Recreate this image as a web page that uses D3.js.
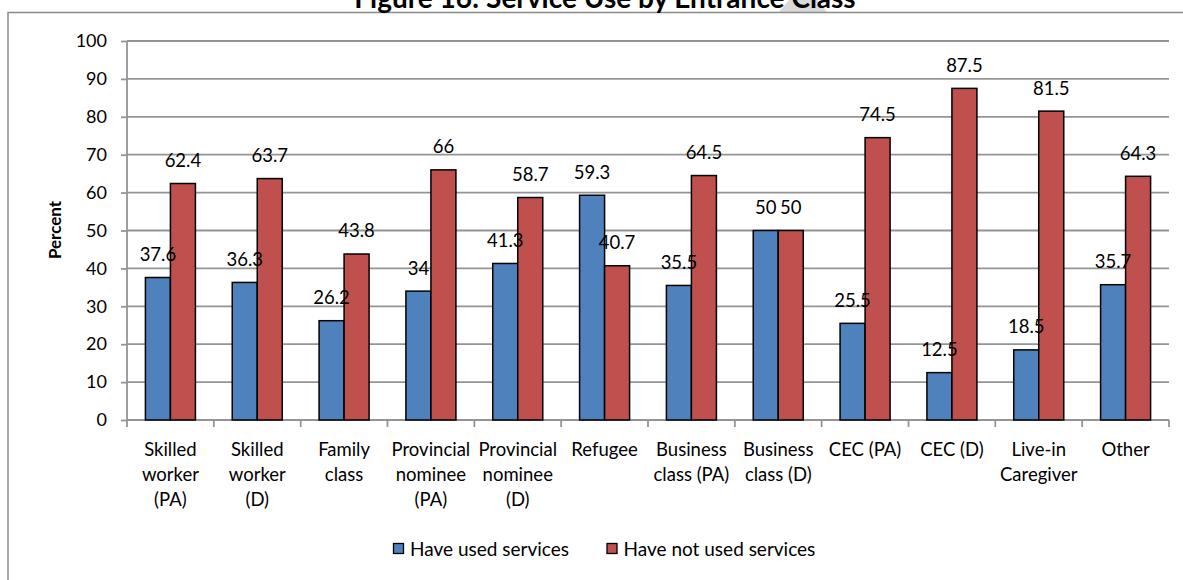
<!DOCTYPE html>
<html>
<head>
<meta charset="utf-8">
<script src="https://cdn.jsdelivr.net/npm/d3@7"></script>
<style>
  html, body { margin: 0; padding: 0; background: #fff; }
  svg { display: block; }
  text { font-family: Lato, "Noto Sans", "DejaVu Sans", sans-serif; fill: #000; }
</style>
</head>
<body>
<svg id="chart" width="1183" height="580"></svg>
<script>
// Entrance classes (line breaks mark how each axis label wraps)
const categories = [
  "Skilled\nworker\n(PA)", "Skilled\nworker\n(D)", "Family\nclass",
  "Provincial\nnominee\n(PA)", "Provincial\nnominee\n(D)", "Refugee",
  "Business\nclass (PA)", "Business\nclass (D)", "CEC (PA)", "CEC (D)",
  "Live-in\nCaregiver", "Other"
];
const seriesNames = ["Have used services", "Have not used services"];
const usedServices    = [37.6, 36.3, 26.2, 34, 41.3, 59.3, 35.5, 50, 25.5, 12.5, 18.5, 35.7];
const notUsedServices = [62.4, 63.7, 43.8, 66, 58.7, 40.7, 64.5, 50, 74.5, 87.5, 81.5, 64.3];
const yTicks = [0, 10, 20, 30, 40, 50, 60, 70, 80, 90, 100];
const colors = ["#4F81BD", "#C0504D"];

const svg = d3.select("#chart");
const W = 1183, H = 580;
const plot = { left: 127, right: 1169, top: 41, bottom: 420 };
const FS = 18.5;

// faint grey wedge peeking out above the frame
svg.append("polygon")
  .attr("points", "803,-16 777,14 829,14")
  .attr("fill", "#d9d9d9");

// chart frame
svg.append("rect")
  .attr("x", 8).attr("y", 12.5)
  .attr("width", W + 20).attr("height", H + 20)
  .attr("fill", "#fff").attr("stroke", "#8a8a8a").attr("stroke-width", 1.5);

// title (runs off the top edge)
svg.append("text")
  .attr("x", 605).attr("y", 7.5)
  .attr("text-anchor", "middle")
  .attr("font-weight", "bold").attr("font-size", 28)
  .text("Figure 16: Service Use by Entrance Class");

const x0 = d3.scaleBand()
  .domain(d3.range(categories.length))
  .range([plot.left, plot.right])
  .paddingInner(0.424).paddingOuter(0.212);
const x1 = d3.scaleBand().domain([0, 1]).range([0, x0.bandwidth()]);
const y = d3.scaleLinear().domain([0, 100]).range([plot.bottom, plot.top]);

// horizontal gridlines
svg.append("g").selectAll("line").data(yTicks.filter(t => t > 0)).join("line")
  .attr("x1", plot.left).attr("x2", plot.right)
  .attr("y1", d => y(d)).attr("y2", d => y(d))
  .attr("stroke", "#949494").attr("stroke-width", 1.8);

// y axis
const yAxis = svg.append("g").attr("transform", `translate(${plot.left},0)`)
  .call(d3.axisLeft(y).tickValues(yTicks).tickSize(6).tickPadding(14).tickFormat(d3.format("d")));
yAxis.select(".domain").attr("stroke", "#949494").attr("stroke-width", 1.8)
  .attr("d", `M0,${plot.top}V${plot.bottom}`);
yAxis.selectAll(".tick line").attr("stroke", "#949494").attr("stroke-width", 1.8);
yAxis.selectAll(".tick text").attr("font-size", 18).attr("fill", "#000")
  .style("font-family", "Lato, 'Noto Sans', sans-serif");

// x axis baseline and category separators
const step = x0.step();
const boundaries = d3.range(categories.length + 1).map(i => plot.left + i * step);
svg.append("line")
  .attr("x1", plot.left).attr("x2", plot.right)
  .attr("y1", plot.bottom).attr("y2", plot.bottom)
  .attr("stroke", "#949494").attr("stroke-width", 1.8);
svg.append("g").selectAll("line").data(boundaries).join("line")
  .attr("x1", d => d).attr("x2", d => d)
  .attr("y1", plot.bottom).attr("y2", plot.bottom + 7)
  .attr("stroke", "#949494").attr("stroke-width", 1.8);

// category labels
const catG = svg.append("g").selectAll("text").data(categories).join("text")
  .attr("text-anchor", "middle")
  .attr("font-size", FS);
catG.each(function(d, i) {
  const t = d3.select(this);
  d.split("\n").forEach((line, k) => {
    t.append("tspan")
      .attr("x", x0(i) + x0.bandwidth() / 2)
      .attr("y", 455.5 + k * 25)
      .text(line);
  });
});

// bars
const series = [usedServices, notUsedServices];
series.forEach((vals, s) => {
  svg.append("g").selectAll("rect").data(vals).join("rect")
    .attr("x", (d, i) => x0(i) + x1(s))
    .attr("y", d => y(d))
    .attr("width", x1.bandwidth())
    .attr("height", d => y(0) - y(d))
    .attr("fill", colors[s])
    .attr("stroke", "#000").attr("stroke-width", 1.5);
});

// value labels
series.forEach((vals, s) => {
  svg.append("g").selectAll("text").data(vals).join("text")
    .attr("text-anchor", "middle")
    .attr("font-size", FS)
    .attr("x", (d, i) => x0(i) + x1(s) + x1.bandwidth() / 2)
    .attr("y", d => y(d) - 16.5)
    .text(d => d);
});

// y axis title
svg.append("text")
  .attr("transform", "translate(61,230) rotate(-90)")
  .attr("text-anchor", "middle")
  .attr("font-weight", "bold").attr("font-size", 17)
  .text("Percent");

// legend
const legendX = [393.5, 607];
seriesNames.forEach((name, s) => {
  svg.append("rect")
    .attr("x", legendX[s]).attr("y", 543.5)
    .attr("width", 10).attr("height", 10)
    .attr("fill", colors[s]).attr("stroke", "#000").attr("stroke-width", 1.3);
  svg.append("text")
    .attr("x", legendX[s] + 16.5).attr("y", 555.5)
    .attr("font-size", 19)
    .text(name);
});
</script>
</body>
</html>
